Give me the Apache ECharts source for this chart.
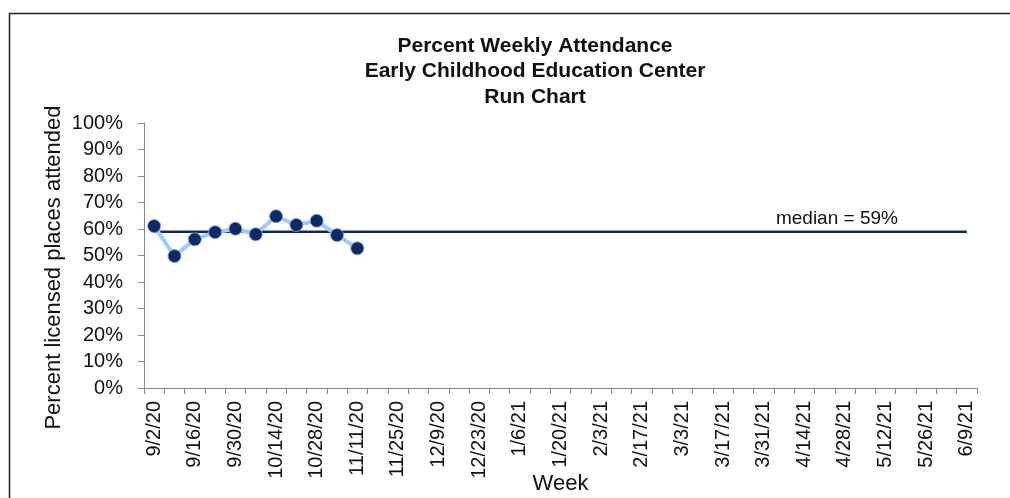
<!DOCTYPE html>
<html>
<head>
<meta charset="utf-8">
<script src="https://cdn.jsdelivr.net/npm/echarts@6/dist/echarts.min.js"></script>
<style>
html,body{margin:0;padding:0;background:#fff;}
#c{width:1010px;height:498px;}
</style>
</head>
<body>
<div id="c"></div>
<script>
const weeks = ["9/2/20","9/9/20","9/16/20","9/23/20","9/30/20","10/7/20","10/14/20","10/21/20","10/28/20","11/4/20","11/11/20","11/18/20","11/25/20","12/2/20","12/9/20","12/16/20","12/23/20","12/30/20","1/6/21","1/13/21","1/20/21","1/27/21","2/3/21","2/10/21","2/17/21","2/24/21","3/3/21","3/10/21","3/17/21","3/24/21","3/31/21","4/7/21","4/14/21","4/21/21","4/28/21","5/5/21","5/12/21","5/19/21","5/26/21","6/2/21","6/9/21"];
const attendance = [61.1, 49.8, 56.1, 58.8, 60.1, 58.0, 64.8, 61.5, 63.1, 57.7, 52.7];
const median = 59;
const medianLabelIndex = 34;
const titleLines = ["Percent Weekly Attendance", "Early Childhood Education Center", "Run Chart"];

const medianLine = weeks.map(() => median);

const chart = echarts.init(document.getElementById('c'), null, {renderer: 'canvas'});
chart.setOption({
  animation: false,
  backgroundColor: '#fff',
  textStyle: {fontFamily: 'Liberation Sans'},
  title: {
    text: titleLines.join('\n'),
    left: 530, top: 28, textAlign: 'center',
    textStyle: {fontSize: 21, fontWeight: 'bold', color: '#111', lineHeight: 25.5, fontFamily: 'Liberation Sans'}
  },
  graphic: [{
    type: 'rect', left: 7, top: 11, silent: true,
    shape: {width: 1010, height: 500},
    style: {fill: 'none', stroke: '#222', lineWidth: 1.5}
  }],
  grid: {left: 144, right: 33, top: 123, bottom: 110, containLabel: false, outerBoundsMode: 'none'},
  xAxis: {
    type: 'category', data: weeks, boundaryGap: true,
    name: 'Week', nameLocation: 'middle', nameGap: 85, nameMoveOverlap: false,
    nameTextStyle: {fontSize: 22, color: '#111'},
    axisLine: {lineStyle: {color: '#888', width: 1}},
    axisTick: {show: true, interval: 0, length: 6, lineStyle: {color: '#888'}},
    axisLabel: {interval: 1, rotate: 90, fontSize: 20, color: '#111', margin: 13}
  },
  yAxis: {
    type: 'value', min: 0, max: 100, interval: 10,
    name: 'Percent licensed places attended', nameLocation: 'middle', nameGap: 79, nameMoveOverlap: false,
    nameTextStyle: {fontSize: 22, color: '#111', padding: [0, 24, 0, 0]},
    axisLine: {show: true, lineStyle: {color: '#888', width: 1}},
    axisTick: {show: true, length: 6, inside: false, lineStyle: {color: '#888'}},
    splitLine: {show: false},
    axisLabel: {formatter: '{value}%', fontSize: 20, color: '#111', margin: 21}
  },
  series: [
    {
      type: 'line', data: medianLine, symbol: 'none', z: 2,
      lineStyle: {color: '#0b2a66', width: 2.5}
    },
    {
      type: 'scatter', data: [[medianLabelIndex, median]], symbolSize: 2, z: 1,
      itemStyle: {color: 'rgba(0,0,0,0)', opacity: 1},
      label: {show: true, position: 'top', distance: 2, offset: [-8, 0], formatter: 'median = ' + median + '%', color: '#111', textBorderWidth: 0, fontSize: 19, fontFamily: 'Liberation Sans'},
      emphasis: {disabled: true},
      silent: true
    },
    {
      type: 'line', data: attendance, symbol: 'circle', symbolSize: 13, z: 3,
      lineStyle: {color: '#99ccff', width: 4},
      itemStyle: {color: '#0b2a66', borderColor: '#8fa3d6', borderWidth: 0.8}
    }
  ]
});
</script>
</body>
</html>
